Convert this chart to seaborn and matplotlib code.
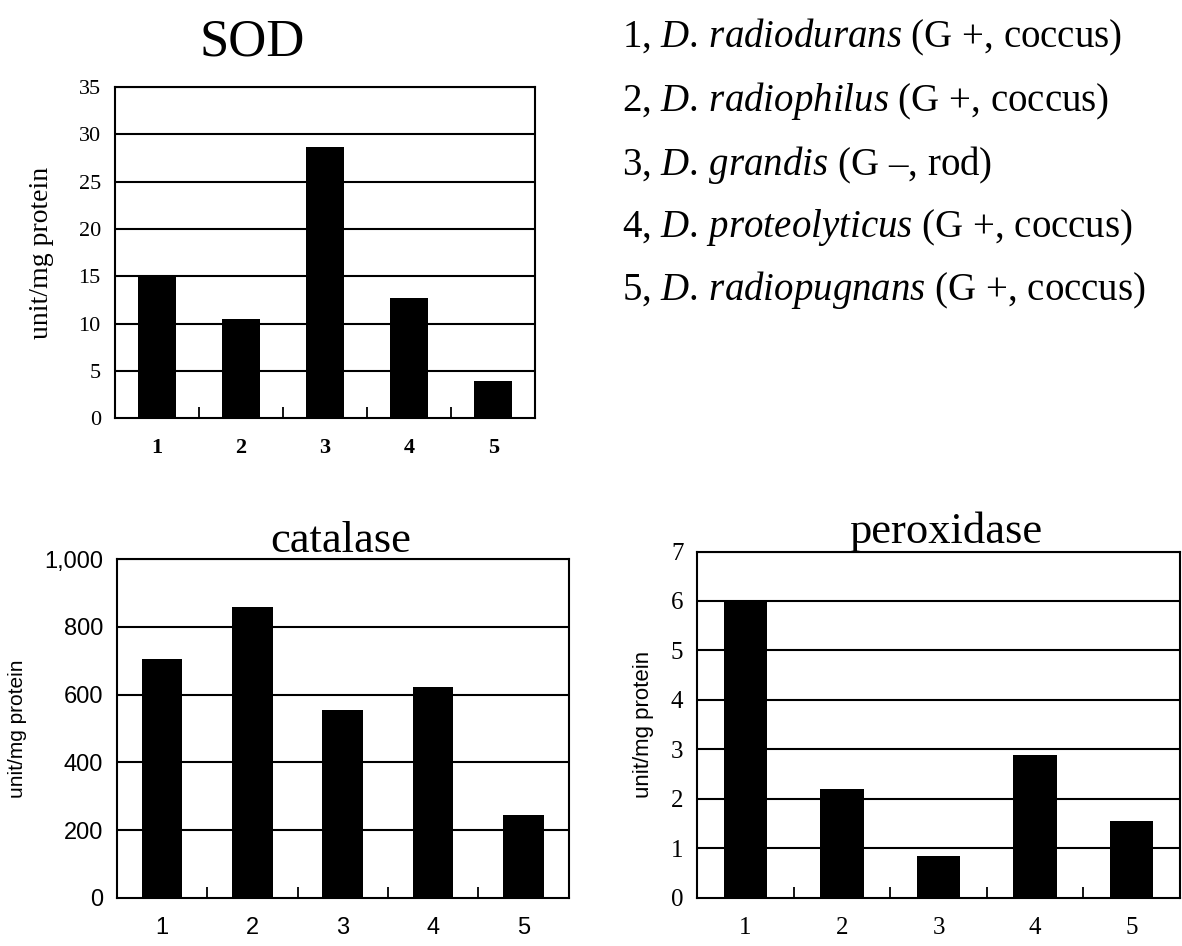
import seaborn as sns
import matplotlib.pyplot as plt
import pandas as pd

# values
strains = ["1", "2", "3", "4", "5"]
sod = [15.0, 10.5, 28.7, 12.7, 3.9]
catalase = [705, 858, 555, 622, 245]
peroxidase = [6.0, 2.2, 0.85, 2.88, 1.56]

species = ["D.\\,radiodurans", "D.\\,radiophilus", "D.\\,grandis",
           "D.\\,proteolyticus", "D.\\,radiopugnans"]
gram = ["(G +, coccus)", "(G +, coccus)", "(G \u2013, rod)",
        "(G +, coccus)", "(G +, coccus)"]

sns.set_style("white")
plt.rcParams["text.color"] = "black"
plt.rcParams["axes.labelcolor"] = "black"
plt.rcParams["xtick.color"] = "black"
plt.rcParams["ytick.color"] = "black"
plt.rcParams["mathtext.fontset"] = "custom"
plt.rcParams["mathtext.rm"] = "Liberation Serif"
plt.rcParams["mathtext.it"] = "Liberation Serif:italic"
SERIF = "Liberation Serif"
SANS = "Liberation Sans"

fig = plt.figure(figsize=(11.82, 9.46), dpi=100)


def panel(rect, values, ymax, step, tick_font, tick_size, ylab_font, ylab_size,
          fmt=None, bold_x=False, ylab_pad=12):
    ax = fig.add_axes(rect)
    df = pd.DataFrame({"strain": strains, "value": values})
    sns.barplot(data=df, x="strain", y="value", color="black", width=0.45,
                saturation=1, edgecolor="black", linewidth=0, ax=ax, zorder=3)
    ax.set_ylim(0, ymax)
    ax.set_xlim(-0.5, 4.5)
    ticks = list(range(0, ymax + 1, step))
    ax.set_yticks(ticks)
    labels = [fmt(t) if fmt else str(t) for t in ticks]
    ax.set_yticklabels(labels, fontfamily=tick_font, fontsize=tick_size)
    ax.set_xticks(range(5))
    ax.set_xticklabels(strains, fontfamily=tick_font, fontsize=tick_size,
                       fontweight="bold" if bold_x else "normal")
    ax.tick_params(axis="x", length=0, pad=14)
    ax.tick_params(axis="y", length=0, pad=10)
    # small inward ticks between the bars
    ax.set_xticks([0.5, 1.5, 2.5, 3.5], minor=True)
    ax.tick_params(axis="x", which="minor", bottom=True, direction="in",
                   length=8, width=1.3, color="black")
    for t in ticks[1:]:
        ax.axhline(t, color="black", lw=1.5, zorder=1)
    for s in ax.spines.values():
        s.set_color("black")
        s.set_linewidth(1.5)
        s.set_zorder(4)
    ax.set_xlabel("")
    ax.set_ylabel("unit/mg protein", fontfamily=ylab_font, fontsize=ylab_size, labelpad=ylab_pad)
    return ax


ax1 = panel([0.097, 0.558, 0.356, 0.350], sod, 35, 5, SERIF, 16, SERIF, 20,
            bold_x=True, ylab_pad=18)
fig.text(0.213, 0.955, "SOD", ha="center", va="center", fontfamily=SERIF, fontsize=38)

ax2 = panel([0.099, 0.051, 0.382, 0.358], catalase, 1000, 200, SANS, 17, SANS, 15,
            fmt=lambda t: f"{t:,}")
fig.text(0.288, 0.428, "catalase", ha="center", va="center", fontfamily=SERIF, fontsize=32)

ax3 = panel([0.590, 0.051, 0.408, 0.366], peroxidase, 7, 1, SERIF, 18, SANS, 16)
fig.text(0.800, 0.438, "peroxidase", ha="center", va="center", fontfamily=SERIF, fontsize=32)

ys = [0.960, 0.893, 0.826, 0.760, 0.693]
for i, y in enumerate(ys):
    line = f"{strains[i]}, $\\mathit{{{species[i]}}}$ {gram[i]}"
    fig.text(0.526, y, line, ha="left", va="center", fontfamily=SERIF, fontsize=28)

plt.savefig("out.png", dpi=100)
